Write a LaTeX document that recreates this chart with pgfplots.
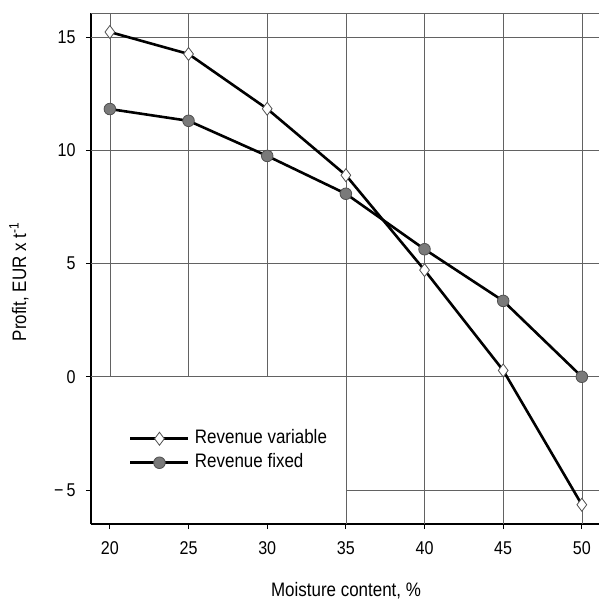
\documentclass[border=0pt]{standalone}
\usepackage{fontspec}
\setmainfont{Liberation Sans}[FakeStretch=0.87]
\usepackage{pgfplots}
\pgfplotsset{compat=1.18}
\definecolor{gridc}{HTML}{626262}
\definecolor{dotfill}{HTML}{7A7A7A}
\definecolor{dotedge}{HTML}{505050}
\begin{document}
\begin{tikzpicture}
\begin{axis}[
  scale only axis,
  width=508bp, height=511bp,
  xmin=18.8, xmax=51.09,
  ymin=-6.5, ymax=16.06,
  axis x line*=bottom, axis y line*=left,
  axis line style={black, line width=1.3bp},
  xtick={20,25,30,35,40,45,50},
  ytick={-5,0,5,10,15},
  yticklabels={−\,5,0,5,10,15},
  tick align=outside,
  major tick length=5bp,
  tick style={black, line width=1bp},
  /pgf/number format/assume math mode=true,
  tick label style={font=\fontsize{18.5bp}{21bp}\selectfont},
  xticklabel style={yshift=-9bp},
  yticklabel style={xshift=-7bp},
  label style={font=\fontsize{19.5bp}{22bp}\selectfont},
  xlabel={Moisture content, \%},
  ylabel={Profit, EUR x t\textsuperscript{-1}},
  xlabel style={at={(axis description cs:0.502,0)}, anchor=center, yshift=-67bp},
  ylabel style={at={(axis description cs:-0.1417,0.4736)}, anchor=center},
  clip=false,
  legend style={at={(axis cs:21.2,-2.33)}, anchor=north west, draw=none, fill=none,
    inner sep=0pt, row sep=6bp,
    nodes={inner sep=1bp, text height=13bp, text depth=3bp},
    font=\fontsize{19.5bp}{22bp}\selectfont},
  legend cell align=left,
  legend image code/.code={\draw[mark repeat=2,mark phase=2,#1,line width=3bp] plot coordinates {(0bp,0bp) (29bp,0bp) (58bp,0bp)};},
  /tikz/every odd column/.append style={column sep=4bp},
]
% grid (decoration)
\draw[gridc, line width=0.7bp] (axis cs:18.8,16.06) -- (axis cs:51.09,16.06);
\draw[gridc, line width=0.7bp] (axis cs:18.8,15) -- (axis cs:51.09,15);
\draw[gridc, line width=0.7bp] (axis cs:18.8,10) -- (axis cs:51.09,10);
\draw[gridc, line width=0.7bp] (axis cs:18.8,5) -- (axis cs:51.09,5);
\draw[gridc, line width=0.7bp] (axis cs:18.8,0) -- (axis cs:51.09,0);
\draw[gridc, line width=0.7bp] (axis cs:35,-5) -- (axis cs:51.09,-5);
\draw[gridc, line width=0.7bp] (axis cs:20,0) -- (axis cs:20,16.06);
\draw[gridc, line width=0.7bp] (axis cs:25,0) -- (axis cs:25,16.06);
\draw[gridc, line width=0.7bp] (axis cs:30,0) -- (axis cs:30,16.06);
\draw[gridc, line width=0.7bp] (axis cs:35,-6.5) -- (axis cs:35,16.06);
\draw[gridc, line width=0.7bp] (axis cs:40,-6.5) -- (axis cs:40,16.06);
\draw[gridc, line width=0.7bp] (axis cs:45,-6.5) -- (axis cs:45,16.06);
\draw[gridc, line width=0.7bp] (axis cs:50,-6.5) -- (axis cs:50,16.06);

\addplot[black, line width=2.6bp, mark=diamond*, mark size=6.5bp,
  mark options={fill=white, draw=dotedge, line width=0.8bp}]
  coordinates {(20,15.22) (25,14.25) (30,11.83) (35,8.90) (40,4.71) (45,0.28) (50,-5.65)};
\addlegendentry{Revenue variable}
\addplot[black, line width=2.6bp, mark=*, mark size=5.8bp,
  mark options={fill=dotfill, draw=dotedge, line width=0.8bp}]
  coordinates {(20,11.82) (25,11.30) (30,9.75) (35,8.08) (40,5.63) (45,3.35) (50,0.00)};
\addlegendentry{Revenue fixed}
\end{axis}
\pgfresetboundingbox
\path (-91bp,-78bp) rectangle (508bp,524bp);
\end{tikzpicture}
\end{document}
